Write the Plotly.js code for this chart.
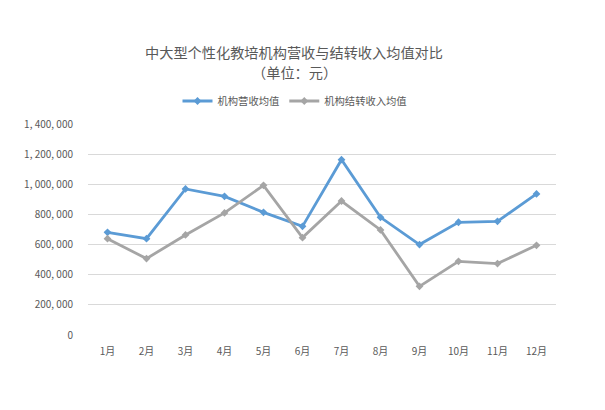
<!DOCTYPE html>
<html>
<head>
<meta charset="utf-8">
<script src="https://cdn.plot.ly/plotly-3.0.1.min.js"></script>
<style>html,body{margin:0;padding:0;background:#fff;}#chart{width:605px;height:410px;}</style>
</head>
<body>
<div id="chart"></div>
<script>
var months = ['1月','2月','3月','4月','5月','6月','7月','8月','9月','10月','11月','12月'];
var revenueAvg = [681000, 639000, 969000, 920000, 814000, 721000, 1163000, 781000, 600000, 748000, 754000, 936000];
var conversionAvg = [639000, 507000, 664000, 810000, 993000, 646000, 889000, 697000, 323000, 489000, 474000, 595000];
var yTickVals = [0, 200000, 400000, 600000, 800000, 1000000, 1200000, 1400000];
var yTickText = ['0', '200, 000', '400, 000', '600, 000', '800, 000', '1, 000, 000', '1, 200, 000', '1, 400, 000'];
var titleLines = ['中大型个性化教培机构营收与结转收入均值对比', '（单位：元）'];

var FONT = '"Noto Sans CJK SC", "Noto Sans", sans-serif';
var traces = [
  {x: months, y: revenueAvg, name: '机构营收均值', type: 'scatter', mode: 'lines+markers',
   line: {color: '#5B9BD5', width: 2.8}, marker: {symbol: 'diamond', size: 6, color: '#5B9BD5'}},
  {x: months, y: conversionAvg, name: '机构结转收入均值', type: 'scatter', mode: 'lines+markers',
   line: {color: '#A5A5A5', width: 2.8}, marker: {symbol: 'diamond', size: 6, color: '#A5A5A5'}}
];
var titleFont = {family: FONT, size: 14.2, color: '#595959'};
var layout = {
  width: 605, height: 410,
  margin: {l: 87.5, r: 49, t: 124.3, b: 74.5},
  paper_bgcolor: '#fff', plot_bgcolor: '#fff',
  font: {family: FONT, color: '#595959', size: 10},
  annotations: [
    {text: titleLines[0], xref: 'paper', yref: 'paper', x: (294 - 87.5) / 468.5, y: (335.5 - 52.5) / 211.2,
     xanchor: 'center', yanchor: 'middle', showarrow: false, font: titleFont},
    {text: titleLines[1], xref: 'paper', yref: 'paper', x: (294 - 87.5) / 468.5, y: (335.5 - 72.5) / 211.2,
     xanchor: 'center', yanchor: 'middle', showarrow: false, font: titleFont}
  ],
  showlegend: true,
  legend: {orientation: 'h', x: 295/605, xref: 'container', xanchor: 'center', y: 1 - 101/410, yref: 'container', yanchor: 'middle',
           font: {family: FONT, size: 10.3, color: '#595959'}, itemwidth: 30, tracegroupgap: 0},
  xaxis: {type: 'category', range: [-0.5, 11.5], showgrid: false, zeroline: false, showline: false,
          ticks: '', ticklabelstandoff: 9, tickfont: {family: FONT, size: 10, color: '#595959'}, fixedrange: true},
  yaxis: {range: [0, 1400000], tickvals: yTickVals, ticktext: yTickText, showgrid: true,
          gridcolor: '#D9D9D9', gridwidth: 1, zeroline: false, showline: false, ticks: '',
          ticklabelstandoff: 14, tickfont: {family: FONT, size: 10, color: '#595959'}, fixedrange: true}
};
Plotly.newPlot('chart', traces, layout, {displayModeBar: false, staticPlot: true});
</script>
</body>
</html>
